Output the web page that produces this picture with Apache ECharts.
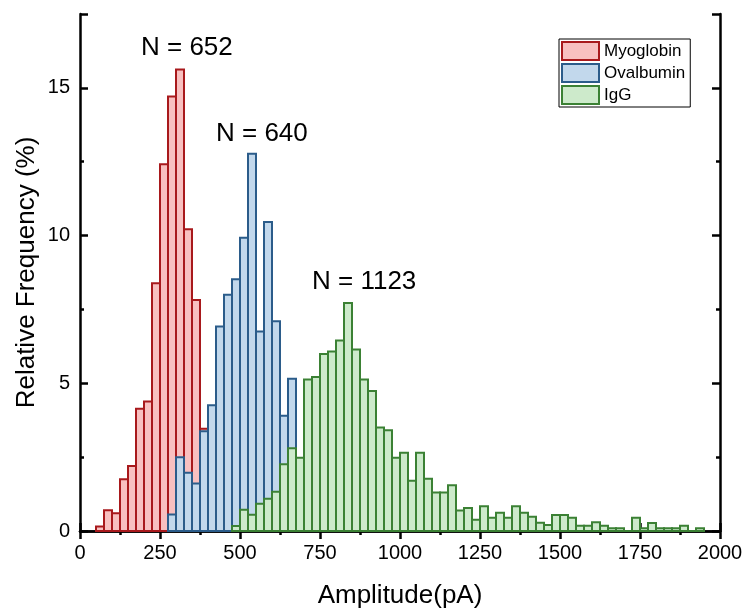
<!DOCTYPE html>
<html>
<head>
    <meta charset="utf-8">
    <script src="https://cdn.jsdelivr.net/npm/echarts@6/dist/echarts.min.js"></script>
</head>
<body style="margin:0;background:#fff;">
<div id="main" style="width: 748px;height:608px;"></div>

<script type="text/javascript">
    // histogram bins, 25 pA wide
    var binWidth = 25;
    var xTicks = [0, 250, 500, 750, 1000, 1250, 1500, 1750, 2000];
    var yTicks = [0, 5, 10, 15];

    // first bin start (pA) and relative frequency (%) per bin
    var myoStart = 50;
    var myoglobin = [0.15, 0.7, 0.6, 1.75, 2.2, 4.14, 4.38, 8.39, 12.41, 14.71, 15.62, 10.21, 7.82, 3.46];

    var ovaStart = 275;
    var ovalbumin = [0.56, 2.5, 1.97, 1.61, 3.38, 4.26, 6.92, 8.0, 8.52, 9.93, 12.77, 6.75, 10.46, 7.1, 3.9, 5.15];

    var iggStart = 475;
    var igg = [0.17, 0.72, 0.55, 0.92, 1.09, 1.33, 2.26, 2.8, 2.48, 5.13,
               5.21, 5.99, 6.08, 6.45, 7.72, 6.14, 5.13, 4.74, 3.5, 3.41,
               2.48, 2.65, 1.7, 2.65, 1.77, 1.3, 1.3, 1.55, 0.69, 0.78,
               0.38, 0.84, 0.45, 0.62, 0.45, 0.84, 0.62, 0.48, 0.28, 0.2,
               0.54, 0.54, 0.45, 0.18, 0.18, 0.3, 0.18, 0.09, 0.09, 0,
               0.45, 0.09, 0.27, 0.09, 0.09, 0.09, 0.18, 0, 0.09];

    var counts = ['N = 652', 'N = 640', 'N = 1123'];

    function toBins(start, values) {
        var out = [];
        for (var i = 0; i < values.length; i++) {
            out.push([start + i * binWidth, values[i]]);
        }
        return out;
    }

    function renderBar(params, api) {
        var x0 = api.value(0);
        var p0 = api.coord([x0, api.value(1)]);
        var p1 = api.coord([x0 + binWidth, 0]);
        return {
            type: 'rect',
            shape: {x: p0[0], y: p0[1], width: p1[0] - p0[0], height: p1[1] - p0[1]},
            style: api.style()
        };
    }

    var colors = {
        Myoglobin: {fill: '#F8C0C0', edge: '#A8191C'},
        Ovalbumin: {fill: '#C2D8EC', edge: '#2B5C8A'},
        IgG: {fill: '#CDEACB', edge: '#3B8134'}
    };

    function histSeries(name, data) {
        return {
            name: name,
            type: 'custom',
            renderItem: renderBar,
            encode: {x: 0, y: 1},
            data: data,
            itemStyle: {color: colors[name].fill, borderColor: colors[name].edge, borderWidth: 2}
        };
    }

    var font = 'Liberation Sans, Arial, sans-serif';
    var axisLine = {show: true, lineStyle: {color: '#000', width: 2.5}};

    function xAx(pos, labels) {
        return {
            type: 'value', position: pos, min: 0, max: 2000, interval: 250,
            axisLine: axisLine,
            axisTick: {inside: true, length: 8, lineStyle: {color: '#000', width: 2.5}},
            minorTick: {show: true, splitNumber: 2, length: 4, lineStyle: {color: '#000', width: 2.5}},
            splitLine: {show: false},
            axisLabel: {
                show: labels, color: '#000', fontSize: 20, fontFamily: font, margin: 12,
                formatter: function (v) { return xTicks.indexOf(v) >= 0 ? String(v) : ''; }
            },
            name: labels ? 'Amplitude(pA)' : '',
            nameLocation: 'middle', nameGap: 52, nameMoveOverlap: false,
            nameTextStyle: {color: '#000', fontSize: 26, fontFamily: font}
        };
    }

    function yAx(pos, major, labels) {
        return {
            type: 'value', position: pos, min: 0, max: 17.5, interval: major ? 5 : 2.5,
            axisLine: major ? axisLine : {show: false},
            axisTick: {inside: true, length: major ? 8 : 4, lineStyle: {color: '#000', width: 2.5}},
            splitLine: {show: false},
            axisLabel: {
                show: labels, color: '#000', fontSize: 20, fontFamily: font, margin: 10,
                formatter: function (v) { return yTicks.indexOf(v) >= 0 ? String(v) : ''; }
            },
            name: labels ? 'Relative Frequency (%)' : '',
            nameLocation: 'middle', nameGap: 40, nameMoveOverlap: false,
            nameTextStyle: {color: '#000', fontSize: 26, fontFamily: font}
        };
    }

    var myChart = echarts.init(document.getElementById('main'));

    var option = {
        backgroundColor: '#fff',
        animation: false,
        grid: {left: 80, right: 28, top: 14, bottom: 77, outerBoundsMode: 'none'},
        xAxis: [xAx('bottom', true), xAx('top', false)],
        yAxis: [yAx('left', true, true), yAx('left', false, false), yAx('right', true, false), yAx('right', false, false)],
        legend: {
            orient: 'vertical', left: 559, top: 39,
            borderColor: '#000', borderWidth: 1, borderRadius: 0,
            padding: [2, 5, 2, 2], itemGap: 2, itemWidth: 37, itemHeight: 18,
            textStyle: {color: '#000', fontSize: 17, fontFamily: font},
            data: ['Myoglobin', 'Ovalbumin', 'IgG'].map(function (n) {
                return {name: n, icon: 'rect',
                    itemStyle: {color: colors[n].fill, borderColor: colors[n].edge, borderWidth: 2}};
            })
        },
        graphic: [
            {type: 'text', left: 141, top: 35, style: {text: counts[0], fontSize: 26, fontFamily: font, fill: '#000'}},
            {type: 'text', left: 216, top: 121, style: {text: counts[1], fontSize: 26, fontFamily: font, fill: '#000'}},
            {type: 'text', left: 312, top: 269, style: {text: counts[2], fontSize: 26, fontFamily: font, fill: '#000'}}
        ],
        series: [
            histSeries('Myoglobin', toBins(myoStart, myoglobin)),
            histSeries('Ovalbumin', toBins(ovaStart, ovalbumin)),
            histSeries('IgG', toBins(iggStart, igg))
        ]
    };

    myChart.setOption(option);
</script>
</body>
</html>
